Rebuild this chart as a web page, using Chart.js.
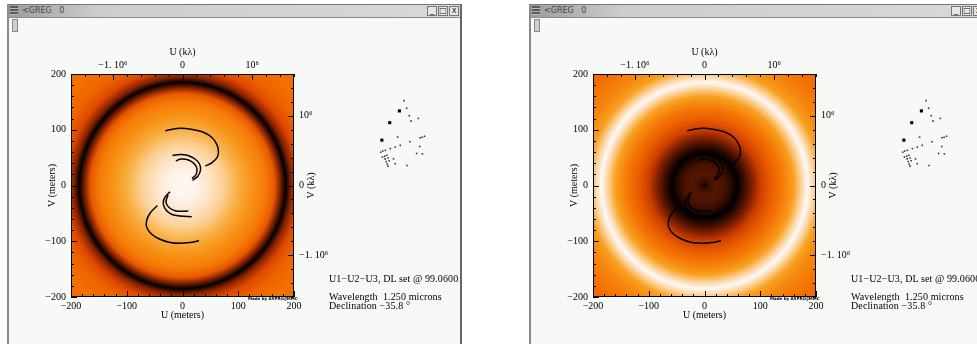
<!DOCTYPE html>
<html>
<head>
<meta charset="utf-8">
<script src="https://cdn.jsdelivr.net/npm/chart.js@4.4.1/dist/chart.umd.min.js"></script>
<style>
body { margin:0; width:977px; height:344px; background:#fff; position:relative; overflow:hidden; font-family:'Liberation Serif', serif; }
.win { position:absolute; top:4px; height:340px; background:#f6f9f6; border-left:2px solid #8a8a8a; border-top:1px solid #777; border-right:2px solid #666; box-sizing:border-box; }
.bar { position:absolute; left:0; right:0; top:0; height:12px; background:linear-gradient(to right,#9c9c9c 0,#cdcdcd 20%,#d8d8d8 100%); border-bottom:1px solid #8a8a8a; }
.ico { position:absolute; left:1px; top:1px; width:8px; height:9px; background:repeating-linear-gradient(#5a5a5a 0 2px,#b8b8b8 2px 3px); }
.name { position:absolute; left:13px; top:0; font:8px 'DejaVu Sans', sans-serif; color:#444; line-height:12px; white-space:pre; }
.btns { position:absolute; right:1px; top:1px; display:flex; gap:1px; }
.btns span { width:8px; height:8px; border:1px solid #777; background:#e6e6e6; font:8px 'DejaVu Sans', sans-serif; line-height:8px; text-align:center; color:#222; }
.thumb { position:absolute; left:3px; top:14px; width:4px; height:11px; background:#cfcfcf; border:1px solid #888; }
canvas { position:absolute; }
.info { position:absolute; font-size:10px; line-height:10px; color:#000; white-space:pre; letter-spacing:0.12px; }
.made { position:absolute; font:bold 4px 'DejaVu Sans', sans-serif; color:#000; white-space:pre; }
</style>
</head>
<body>
<div class="win" style="left:7px; width:455px;">
  <div class="bar"><div class="ico"></div><div class="name">&lt;GREG   0</div><div class="btns"><span>_</span><span>□</span><span>x</span></div></div>
  <div class="thumb"></div>
</div>
<div class="win" style="left:529px; width:460px;">
  <div class="bar"><div class="ico"></div><div class="name">&lt;GREG   0</div><div class="btns" style="right:4px"><span>_</span><span>□</span><span>x</span></div></div>
  <div class="thumb"></div>
</div>

<canvas id="uvA" width="300" height="283" style="left:44px; top:40px;"></canvas>
<canvas id="uvB" width="300" height="283" style="left:566px; top:40px;"></canvas>
<canvas id="stA" width="64" height="84" style="left:370px; top:90px;"></canvas>
<canvas id="stB" width="64" height="84" style="left:892px; top:90px;"></canvas>

<div class="info" style="left:329px; top:274px;">U1−U2−U3, DL set @ 99.0600</div>
<div class="info" style="left:329px; top:292px;">Wavelength  1.250 microns</div>
<div class="info" style="left:329px; top:301px;">Declination −35.8 °</div>
<div class="made" style="left:248px; top:296px;">Made by ASPRO/JMMC</div>

<div class="info" style="left:851px; top:274px;">U1−U2−U3, DL set @ 99.0600</div>
<div class="info" style="left:851px; top:292px;">Wavelength  1.250 microns</div>
<div class="info" style="left:851px; top:301px;">Declination −35.8 °</div>
<div class="made" style="left:770px; top:296px;">Made by ASPRO/JMMC</div>

<script>
// uv tracks (meters)
var bigUpU = [-31, -16, -3, 15, 34, 48, 58, 64, 63, 53, 41];
var bigUpV = [98, 101.5, 102.6, 101, 97, 90, 80, 66, 52, 41, 35];
var outUpU = [-18, -4.5, 10, 22.4, 30.5, 32.3, 27.8, 18];
var outUpV = [54, 55.6, 53.8, 47.5, 38.6, 27.8, 17, 9];
var inUpU = [-12, -2.7, 10.8, 21.5, 26, 24.2, 17];
var inUpV = [44, 47.5, 45.7, 38.6, 29.6, 19.7, 12.6];
var bigLoU = [-45, -58, -64.6, -63.7, -54.7, -40.4, -22.4, -4.5, 13.5, 29.6];
var bigLoV = [-36, -49.3, -63.7, -76.2, -87.9, -96.5, -102.2, -103.7, -102.2, -99];
var outLoU = [-22.4, -32.6, -34.4, -29.6, -18.8, -4.5, 16.5];
var outLoV = [-11.1, -23, -33.2, -44, -52, -54.7, -56];
var inLoU = [-26, -29.6, -24.2, -11.7, 10.4];
var inLoV = [-17, -29.6, -39.5, -45.7, -45.7];

// visibility level against radius (0 = black, 1 = white)
var radii = [0, 25, 50, 75, 100, 125, 150, 165, 175, 185, 195, 210, 230, 260, 290];
var levelA = [1, 0.985, 0.95, 0.9, 0.83, 0.76, 0.68, 0.56, 0.3, 0, 0.3, 0.5, 0.6, 0.65, 0.62];
var radiiB = [0, 6, 20, 35, 48, 58, 68, 85, 100, 120, 140, 160, 175, 185, 195, 210, 230, 260, 290];
var levelB = [0, 0.14, 0.2, 0.18, 0.1, 0, 0.1, 0.28, 0.45, 0.58, 0.68, 0.8, 0.92, 1, 0.92, 0.8, 0.72, 0.65, 0.6];

var heatLevels = [0, 0.15, 0.35, 0.5, 0.65, 0.8, 0.92, 1];
var heatColours = ['#000000', '#3c0e00', '#a02800', '#e04800', '#f47000', '#f8a020', '#fcd8a8', '#fff8f8'];

// axes
var meterTicks = [-200, -100, 0, 100, 200];
var kTicks = [-1e6, 0, 1e6];
var kLabels = ['−1. 10⁶', '0', '10⁶'];

// station layout (arbitrary units)
var bigE = [-2, -24, -42];
var bigN = [52.6, 26.6, -12];
var smallE = [8.6, 14.6, 20.6, 41.4, 24.6, -6, 22, 45.4, 50, 55.4, 44.6, 0, -11.4, -22.6, -34, -40, -44.6, 37.4, 50.6, -40.6, -35.4, -30.6, -28, -34.6, -15.4, -25.4, -32, -30, -11.4, -28, 15.4];
var smallN = [75.4, 58.6, 42, 36, 30, -5.4, -15.4, -6.6, -5.4, -3.4, -26, -23.4, -27.4, -30.6, -34.6, -36, -38.6, -41.4, -42.6, -49.4, -47.4, -45.4, -51.4, -53.4, -53.4, -57.4, -59.4, -64.6, -64, -69.4, -68];

Chart.defaults.font.family = "'Liberation Serif', serif";
Chart.defaults.font.size = 10;
Chart.defaults.color = '#000';

function hexRgb(h) {
    return [parseInt(h.slice(1, 3), 16), parseInt(h.slice(3, 5), 16), parseInt(h.slice(5, 7), 16)];
}

function heat(t) {
    var i = 1;
    while (i < heatLevels.length - 1 && t > heatLevels[i]) i++;
    var f = (t - heatLevels[i - 1]) / (heatLevels[i] - heatLevels[i - 1]);
    var a = hexRgb(heatColours[i - 1]), b = hexRgb(heatColours[i]);
    return 'rgb(' + a.map(function (c, k) { return Math.round(c + (b[k] - c) * f); }).join(',') + ')';
}

function pts(us, vs) {
    return us.map(function (u, i) { return { x: u, y: vs[i] }; });
}

const heatPlugin = {
    id: 'heat',
    beforeDatasetsDraw(chart, args, opts) {
        const { ctx, chartArea: a, scales } = chart;
        const cx = scales.x.getPixelForValue(0), cy = scales.y.getPixelForValue(0);
        const rMax = opts.radii[opts.radii.length - 1];
        const R = scales.x.getPixelForValue(rMax) - cx;
        const g = ctx.createRadialGradient(cx, cy, 0, cx, cy, R);
        opts.radii.forEach(function (r, i) { g.addColorStop(r / rMax, heat(opts.levels[i])); });
        ctx.save();
        ctx.fillStyle = g;
        ctx.fillRect(a.left, a.top, a.width, a.height);
        ctx.restore();
    }
};

const framePlugin = {
    id: 'frame',
    afterDatasetsDraw(chart) {
        const { ctx, chartArea: a, scales } = chart;
        ctx.save();
        ctx.strokeStyle = '#000';
        ctx.lineWidth = 1;
        ctx.beginPath();
        for (var v = -200; v <= 200; v += 20) {
            var L = v % 100 === 0 ? 6 : 3;
            var px = Math.round(scales.x.getPixelForValue(v)) + 0.5;
            ctx.moveTo(px, a.bottom); ctx.lineTo(px, a.bottom - L);
            var py = Math.round(scales.y.getPixelForValue(v)) + 0.5;
            ctx.moveTo(a.left, py); ctx.lineTo(a.left + L, py);
        }
        for (var k = -1.6e6; k <= 1.6e6; k += 2e5) {
            var M = Math.abs(k % 1e6) < 1 ? 6 : 3;
            var qx = Math.round(scales.x2.getPixelForValue(k)) + 0.5;
            ctx.moveTo(qx, a.top); ctx.lineTo(qx, a.top + M);
            var qy = Math.round(scales.y2.getPixelForValue(k)) + 0.5;
            ctx.moveTo(a.right, qy); ctx.lineTo(a.right - M, qy);
        }
        ctx.stroke();
        ctx.strokeRect(a.left + 0.5, a.top + 0.5, a.width - 1, a.height - 1);
        ctx.translate(a.right + 17, (a.top + a.bottom) / 2);
        ctx.rotate(-Math.PI / 2);
        ctx.font = "10px 'Liberation Serif'";
        ctx.textAlign = 'center';
        ctx.textBaseline = 'middle';
        ctx.fillStyle = '#000';
        ctx.fillText('V (kλ)', 0, 0);
        ctx.restore();
    }
};

function meterLabel(v) {
    return v < 0 ? '−' + Math.abs(v) : '' + v;
}

function kLabel(v) {
    var i = kTicks.indexOf(v);
    return i < 0 ? '' : kLabels[i];
}

function track(us, vs) {
    return {
        type: 'line', data: pts(us, vs), borderColor: '#000', borderWidth: 1.5,
        pointRadius: 0, tension: 0.4, fill: false, xAxisID: 'x', yAxisID: 'y'
    };
}

function uvChart(id, r, lv) {
    new Chart(document.getElementById(id), {
        type: 'scatter',
        data: {
            datasets: [
                track(bigUpU, bigUpV), track(outUpU, outUpV), track(inUpU, inUpV),
                track(bigLoU, bigLoV), track(outLoU, outLoV), track(inLoU, inLoV)
            ]
        },
        options: {
            responsive: false,
            animation: false,
            layout: { padding: 0 },
            plugins: {
                legend: { display: false },
                tooltip: { enabled: false },
                heat: { radii: r, levels: lv }
            },
            scales: {
                x: {
                    type: 'linear', position: 'bottom', min: -200, max: 200,
                    afterBuildTicks: function (s) { s.ticks = meterTicks.map(function (v) { return { value: v }; }); },
                    ticks: { padding: 3, maxRotation: 0, autoSkip: false, callback: meterLabel },
                    grid: { display: false, drawTicks: false }, border: { display: false },
                    title: { display: true, text: 'U (meters)', padding: { top: 0, bottom: 2 } },
                    afterFit: function (s) { s.height = 26; }
                },
                y: {
                    type: 'linear', position: 'left', min: -200, max: 200,
                    afterBuildTicks: function (s) { s.ticks = meterTicks.map(function (v) { return { value: v }; }); },
                    ticks: { padding: 5, autoSkip: false, callback: meterLabel },
                    grid: { display: false, drawTicks: false }, border: { display: false },
                    title: { display: true, text: 'V (meters)', padding: { top: 2, bottom: 0 } },
                    afterFit: function (s) { s.width = 27; }
                },
                x2: {
                    type: 'linear', position: 'top', min: -1.6e6, max: 1.6e6,
                    afterBuildTicks: function (s) { s.ticks = kTicks.map(function (v) { return { value: v }; }); },
                    ticks: { padding: 3, maxRotation: 0, autoSkip: false, callback: kLabel },
                    grid: { display: false, drawTicks: false }, border: { display: false },
                    title: { display: true, text: 'U (kλ)', padding: { top: 6, bottom: 0 } },
                    afterFit: function (s) { s.height = 34; }
                },
                y2: {
                    type: 'linear', position: 'right', min: -1.6e6, max: 1.6e6,
                    afterBuildTicks: function (s) { s.ticks = kTicks.map(function (v) { return { value: v }; }); },
                    ticks: { padding: 5, autoSkip: false, callback: kLabel },
                    grid: { display: false, drawTicks: false }, border: { display: false },
                    afterFit: function (s) { s.width = 50; }
                }
            }
        },
        plugins: [heatPlugin, framePlugin]
    });
}

function stationChart(id) {
    new Chart(document.getElementById(id), {
        type: 'scatter',
        data: {
            datasets: [
                { data: pts(bigE, bigN), pointStyle: 'rect', pointRadius: 2.2, backgroundColor: '#000', borderWidth: 0, clip: false },
                { data: pts(smallE, smallN), pointStyle: 'rect', pointRadius: 1.1, backgroundColor: '#333', borderWidth: 0, clip: false }
            ]
        },
        options: {
            responsive: false,
            animation: false,
            layout: { padding: 0 },
            plugins: { legend: { display: false }, tooltip: { enabled: false } },
            scales: {
                x: { display: false, min: -60, max: 68 },
                y: { display: false, min: -78, max: 90 }
            }
        }
    });
}

uvChart('uvA', radii, levelA);
uvChart('uvB', radiiB, levelB);
stationChart('stA');
stationChart('stB');
</script>
</body>
</html>
